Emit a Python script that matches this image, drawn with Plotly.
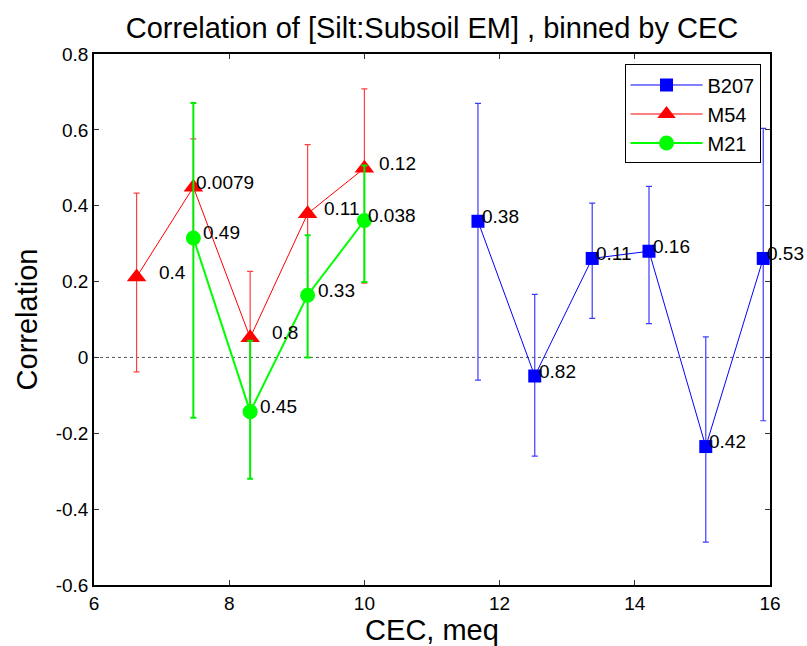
import plotly.graph_objects as go

# ---- data ----
x_b207 = [11.68, 12.52, 13.37, 14.21, 15.05, 15.90]
r_b207 = [0.359, -0.049, 0.261, 0.280, -0.235, 0.261]
hi_b207 = [0.670, 0.166, 0.407, 0.451, 0.054, 0.604]
lo_b207 = [-0.060, -0.260, 0.103, 0.089, -0.487, -0.167]
p_b207 = ["0.38", "0.82", "0.11", "0.16", "0.42", "0.53"]

x_m54 = [6.63, 7.47, 8.31, 9.16, 10.00]
r_m54 = [0.212, 0.449, 0.052, 0.379, 0.499]
hi_m54 = [0.433, 0.576, 0.227, 0.561, 0.708]
lo_m54 = [-0.038, 0.300, -0.126, 0.163, 0.196]
p_m54 = ["0.4", "0.0079", "0.8", "0.11", "0.12"]

x_m21 = [7.47, 8.31, 9.16, 10.00]
r_m21 = [0.315, -0.143, 0.164, 0.361]
hi_m21 = [0.671, 0.044, 0.322, 0.506]
lo_m21 = [-0.159, -0.320, 0.000, 0.199]
p_m21 = ["0.49", "0.45", "0.33", "0.038"]

x_ticks = [6, 8, 10, 12, 14, 16]
y_ticks = [-0.6, -0.4, -0.2, 0, 0.2, 0.4, 0.6, 0.8]
y_ticktext = ["-0.6", "-0.4", "-0.2", "0", "0.2", "0.4", "0.6", "0.8"]

# label pixel offsets (style)
shift_b207 = [2, 2, 2, 2, 1, 2]
shift_m54 = [20, 1, 20, 14, 13]
shift_m21 = [8, 8, 8, 2]

FONT = "Liberation Sans, Arial, sans-serif"

series = [
    dict(name="B207", x=x_b207, r=r_b207, hi=hi_b207, lo=lo_b207, p=p_b207, sh=shift_b207,
         color="#0000ff", ecolor="#3c3cff", lw=1, ew=1.2, symbol="square", size=13),
    dict(name="M54", x=x_m54, r=r_m54, hi=hi_m54, lo=lo_m54, p=p_m54, sh=shift_m54,
         color="#ff0000", ecolor="#ff4040", lw=1, ew=1.2, symbol="triangle-up", size=17),
    dict(name="M21", x=x_m21, r=r_m21, hi=hi_m21, lo=lo_m21, p=p_m21, sh=shift_m21,
         color="#00ff00", ecolor="#00ee00", lw=2, ew=2, symbol="circle", size=15),
]

fig = go.Figure()
annotations = []
for s in series:
    plus = [h - r for h, r in zip(s["hi"], s["r"])]
    minus = [r - l for r, l in zip(s["r"], s["lo"])]
    fig.add_trace(go.Scatter(
        x=s["x"], y=s["r"], name=s["name"], mode="lines+markers",
        line=dict(color=s["color"], width=s["lw"]),
        marker=dict(symbol=s["symbol"], size=s["size"], color=s["color"], line=dict(width=0)),
        error_y=dict(type="data", symmetric=False, array=plus, arrayminus=minus,
                     color=s["ecolor"], thickness=s["ew"], width=3),
    ))
    for xv, yv, txt, sh in zip(s["x"], s["r"], s["p"], s["sh"]):
        annotations.append(dict(
            x=xv, y=yv, text=txt, showarrow=False, xanchor="left", yanchor="middle",
            xshift=sh, yshift=5, font=dict(family=FONT, size=19, color="black"),
        ))

L, R, T, B = 93.5, 36.5, 53.5, 61
PW, PH = 807 - L - R, 646 - T - B

fig.update_layout(
    width=807, height=646,
    margin=dict(l=L, r=R, t=T, b=B, autoexpand=False),
    paper_bgcolor="white", plot_bgcolor="white",
    font=dict(family=FONT, color="black"),
    title=dict(text="Correlation of [Silt:Subsoil EM] , binned by CEC",
               x=0.5, xref="paper", y=1 - 27.5 / 646, yanchor="middle",
               font=dict(family=FONT, size=29, color="black")),
    showlegend=True,
    legend=dict(x=(761 - L) / PW, xref="paper", xanchor="right",
                y=1 - (64 - T) / PH, yref="paper", yanchor="top",
                bgcolor="white", bordercolor="black", borderwidth=1,
                font=dict(family=FONT, size=20, color="black"),
                itemwidth=72, tracegroupgap=0),
    annotations=annotations,
    shapes=[dict(type="line", xref="paper", x0=0, x1=1, yref="y", y0=0, y1=0,
                 line=dict(color="#555555", width=1, dash="dot"), layer="below")],
)

fig.update_xaxes(
    range=[6, 16], tickvals=x_ticks, ticktext=[str(v) for v in x_ticks],
    showgrid=False, zeroline=False, showline=True, linecolor="black", linewidth=1.5,
    mirror="ticks", ticks="inside", ticklen=5, tickcolor="#333333",
    tickfont=dict(family=FONT, size=19, color="black"),
    title=dict(text="CEC, meq", font=dict(family=FONT, size=29, color="black"), standoff=8),
)
fig.update_yaxes(
    range=[-0.6, 0.8], tickvals=y_ticks, ticktext=y_ticktext,
    showgrid=False, zeroline=False, showline=True, linecolor="black", linewidth=1.5,
    mirror="ticks", ticks="inside", ticklen=5, tickcolor="#333333",
    tickfont=dict(family=FONT, size=19, color="black"),
    title=dict(text="Correlation", font=dict(family=FONT, size=29, color="black"), standoff=10),
)

fig.write_html("out.html")
